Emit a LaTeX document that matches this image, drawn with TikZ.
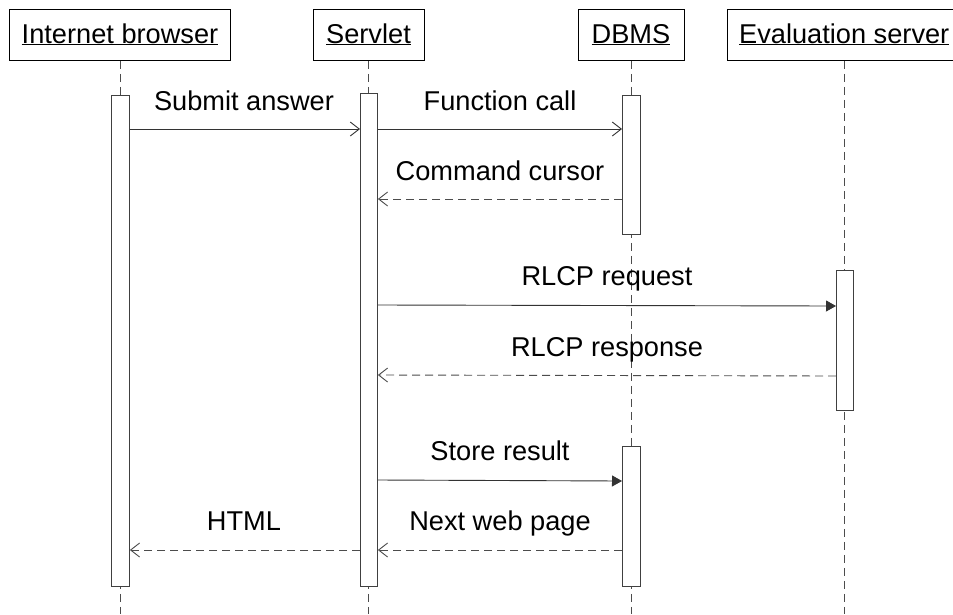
\documentclass[tikz,border=0pt]{standalone}
\usepackage{fontspec}
\setmainfont{Liberation Sans}
\usetikzlibrary{arrows.meta}
\begin{document}
\begin{tikzpicture}[x=1pt,y=-1pt,
  every node/.style={font=\fontsize{27.2}{31}\selectfont, inner sep=0pt},
  actor/.style={draw=black, line width=0.9pt, minimum height=51pt, anchor=north west},
  life/.style={draw=black!70, line width=0.9pt, dash pattern=on 8pt off 5pt},
  bar/.style={draw=black!75, fill=white, line width=0.9pt, anchor=north west},
  call/.style={draw=black!80, line width=0.9pt, -{Straight Barb[length=9pt,width=14pt,line width=0.9pt]}},
  sync/.style={draw=black!80, line width=0.9pt, -{Triangle[length=10pt,width=11pt]}},
  reply/.style={draw=black!70, line width=0.9pt, dash pattern=on 8pt off 5pt, -{Straight Barb[length=9pt,width=14pt,line width=0.9pt]}},
  lbl/.style={anchor=base}]
\useasboundingbox (0,0) rectangle (953,614);
\fill[white] (0,0) rectangle (953,614);
% actor boxes
\node[actor, minimum width=221pt] (ib) at (9,9) {};
\node[actor, minimum width=111pt] (sv) at (313,9) {};
\node[actor, minimum width=106pt] (db) at (578,9) {};
\node[actor, minimum width=240pt] (ev) at (727,9) {};
\node[lbl] at (120,43) {\underline{Internet browser}};
\node[lbl] at (368.5,43) {\underline{Servlet}};
\node[lbl] at (631,43) {\underline{DBMS}};
\node[lbl, anchor=base west] at (739,43) {\underline{Evaluation server}};
% lifelines
\coordinate (ibe) at (120,614);
\coordinate (sve) at (368.5,614);
\coordinate (dbe) at (631,614);
\coordinate (eve) at (844.5,614);
\draw[life] (ib.south -| ibe) -- (ibe);
\draw[life] (sv.south -| sve) -- (sve);
\draw[life] (db.south -| dbe) -- (dbe);
\draw[life] (ev.south -| eve) -- (eve);
% activation bars
\node[bar, minimum width=18pt, minimum height=491pt] (ibb) at (111,95) {};
\node[bar, minimum width=17pt, minimum height=493pt] (svb) at (360,93) {};
\node[bar, minimum width=18pt, minimum height=139pt] (dbb1) at (622,95) {};
\node[bar, minimum width=18pt, minimum height=140pt] (dbb2) at (622,446) {};
\node[bar, minimum width=17pt, minimum height=140pt] (evb) at (836,270) {};
% messages
\draw[call] (ibb.east |- 0,129) -- (svb.west |- 0,129);
\node[lbl] at (244,110.5) {Submit answer};
\draw[call] (svb.east |- 0,129) -- (dbb1.west |- 0,129);
\node[lbl] at (500,110.5) {Function call};
\draw[reply] (dbb1.west |- 0,199) -- (svb.east |- 0,199);
\node[lbl] at (500,180) {Command cursor};
\draw[sync] (svb.east |- 0,305) -- (evb.west |- 0,306);
\node[lbl] at (607,285.5) {RLCP request};
\draw[reply] (evb.west |- 0,376) -- (svb.east |- 0,375);
\node[lbl] at (607,356.5) {RLCP response};
\draw[sync] (svb.east |- 0,480) -- (dbb2.west |- 0,481);
\node[lbl] at (500,460.5) {Store result};
\draw[reply] (dbb2.west |- 0,550) -- (svb.east |- 0,550);
\node[lbl] at (500,530.5) {Next web page};
\draw[reply] (svb.west |- 0,550) -- (ibb.east |- 0,550);
\node[lbl] at (244,530.5) {HTML};
\end{tikzpicture}
\end{document}
